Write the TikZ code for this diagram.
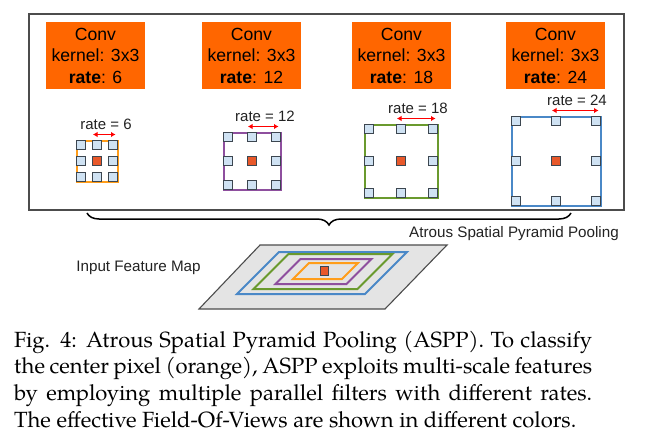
\documentclass[tikz,border=0pt]{standalone}
\usepackage{fontspec}
\setmainfont{Liberation Sans}
\newfontfamily\capfont{texgyrepagella-regular.otf}
\usetikzlibrary{arrows.meta,decorations.pathreplacing}
\definecolor{convorange}{HTML}{FF6600}
\definecolor{cellblue}{HTML}{CFE2F3}
\definecolor{cellline}{HTML}{3C4650}
\definecolor{centerred}{HTML}{E8582A}
\definecolor{fovorange}{HTML}{FF9D1A}
\definecolor{fovpurple}{HTML}{8E4F9E}
\definecolor{fovgreen}{HTML}{6A9A2E}
\definecolor{fovblue}{HTML}{4A88C7}
\definecolor{planegray}{HTML}{E4E4E4}
\definecolor{labelgray}{HTML}{222222}
\tikzset{
  convbox/.style={fill=convorange, minimum width=99pt, minimum height=67pt, inner sep=0pt,
    align=center, font=\fontsize{17.6}{21.5}\selectfont},
  cellbox/.style={draw=cellline, fill=cellblue, line width=1pt, minimum size=8.5pt, inner sep=0pt},
  centerbox/.style={draw=cellline, fill=centerred, line width=1pt, minimum size=8.5pt, inner sep=0pt},
  ratearrow/.style={red, line width=1.6pt, {Latex[length=4.5pt,width=5.5pt]}-{Latex[length=4.5pt,width=5.5pt]}},
  ratelabel/.style={text=labelgray, inner sep=0pt, font=\fontsize{15}{18}\selectfont},
  plainlabel/.style={text=labelgray, inner sep=0pt, font=\fontsize{15.2}{18}\selectfont},
  fovline/.style={line width=2pt, line join=miter},
}
% #1 name, #2 cx, #3 cy, #4 spacing, #5 colour, #6 rate
\newcommand\atrousgrid[6]{%
  \draw[#5, line width=2pt] (#2-#4-4.5,#3-#4-4.5) rectangle (#2+#4+4.5,#3+#4+4.5);
  \foreach \i/\j [count=\k] in {-1/-1,0/-1,1/-1,-1/0,1/0,-1/1,0/1,1/1}
    {\node[cellbox] (#1s\k) at ({#2+\i*#4},{#3+\j*#4}) {};}
  \node[centerbox] (#1c) at (#2,#3) {};
  \coordinate (#1l) at (#2-4,#3-#4-10.5);
  \coordinate (#1r) at (#2+#4+2.5,#3-#4-10.5);
  \draw[ratearrow] (#1l) -- (#1r);
  \node[ratelabel] (#1t) at (#2+#4/2+1,#3-#4-21) {rate = #6};
}
% parallelogram: #1 cx, #2 cy, #3 w, #4 h
\newcommand\fovpar[5]{%
  \draw[fovline,#5] (#1-#3/2+#4/2,#2-#4/2) -- (#1+#3/2+#4/2,#2-#4/2)
    -- (#1+#3/2-#4/2,#2+#4/2) -- (#1-#3/2-#4/2,#2+#4/2) -- cycle;
}
\begin{document}
\begin{tikzpicture}[x=1pt,y=-1pt]
\useasboundingbox (0,0) rectangle (659,447);
% outer frame
\draw[draw=black!70, line width=1.1pt] (29,14) rectangle (624,210);
% conv boxes
\node[convbox] (c1) at (95.5,55.5) {Conv\\kernel: 3x3\\\textbf{rate}: 6};
\node[convbox] (c2) at (251.5,55.5) {Conv\\kernel: 3x3\\\textbf{rate}: 12};
\node[convbox] (c3) at (401.5,55.5) {Conv\\kernel: 3x3\\\textbf{rate}: 18};
\node[convbox] (c4) at (555.5,55.5) {Conv\\kernel: 3x3\\\textbf{rate}: 24};
% atrous grids
\atrousgrid{g1}{97}{161}{16}{fovorange}{6}
\atrousgrid{g2}{252}{161}{24}{fovpurple}{12}
\atrousgrid{g3}{401}{161}{32}{fovgreen}{18}
\atrousgrid{g4}{556}{161}{40}{fovblue}{24}
% brace
\coordinate (bl) at (87,213);
\coordinate (br) at (571,213);
\draw[decorate, decoration={brace, amplitude=12pt, mirror}, line width=1.5pt] (bl) -- (br);
\node[plainlabel] (aspp) at (514,234) {Atrous Spatial Pyramid Pooling};
\node[plainlabel] (ifm) at (138.5,268) {Input Feature Map};
% input feature map plane
\draw[fill=planegray, draw=black!70, line width=1.1pt] (199,309) -- (385,309) -- (447,245) -- (260,245) -- cycle;
\fovpar{322}{273}{128}{42}{fovblue}
\fovpar{323}{271.5}{104}{35}{fovgreen}
\fovpar{323.5}{271.5}{71}{25}{fovpurple}
\fovpar{325.5}{271}{49}{16}{fovorange}
\node[draw=cellline, fill=centerred, line width=1pt, minimum width=7.5pt, minimum height=9pt, inner sep=0pt] (px) at (324.5,271) {};
% caption
\node[anchor=base west, inner sep=0pt] (cap) at (14,347) {\parbox[t]{578pt}{\capfont\fontsize{22}{26.7}\selectfont
\makebox[578pt][s]{Fig. 4: Atrous Spatial Pyramid Pooling (ASPP). To classify}\par
\makebox[578pt][s]{the center pixel (orange), ASPP exploits multi-scale features}\par
\makebox[578pt][s]{by employing multiple parallel filters with different rates.}\par
The effective Field-Of-Views are shown in different colors.}};
\end{tikzpicture}
\end{document}
